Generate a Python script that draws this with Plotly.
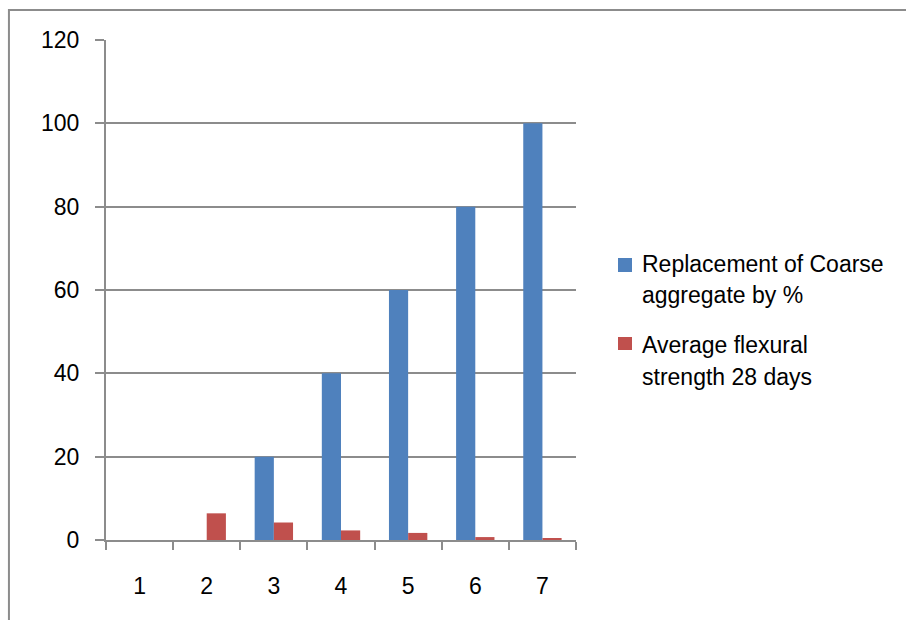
import plotly.graph_objects as go

categories = ["1", "2", "3", "4", "5", "6", "7"]
replacement_pct = [0, 0, 20, 40, 60, 80, 100]
flexural_28d = [0, 6.4, 4.2, 2.3, 1.7, 0.7, 0.25]
y_ticks = [0, 20, 40, 60, 80, 100, 120]
series_names = ["Replacement of Coarse<br>aggregate by %",
                "Average flexural<br>strength 28 days"]
series_colors = ["#4F81BD", "#C0504D"]

FONT = "Liberation Sans"
GRID = "#8c8c8c"

fig = go.Figure()
for vals, name, color in zip([replacement_pct, flexural_28d], series_names, series_colors):
    fig.add_trace(go.Bar(
        x=categories, y=vals, name=name.replace("<br>", " "),
        marker=dict(color=color, line=dict(width=0)),
        showlegend=False,
    ))

# outer chart frame
fig.add_shape(type="rect", xref="paper", yref="paper",
              x0=-0.2065, x1=1.85, y0=-0.2, y1=1.06,
              line=dict(color="#8c8c8c", width=2), fillcolor="rgba(0,0,0,0)",
              layer="below")

# legend: colour key squares and wrapped labels
key_boxes = [(0.564, 0.536), (0.406, 0.380)]
label_rows = [(0.552, 0.490), (0.390, 0.326)]
for (top, bot), rows, name, color in zip(key_boxes, label_rows, series_names, series_colors):
    fig.add_shape(type="rect", xref="paper", yref="paper",
                  x0=1.0894, x1=1.1191, y0=bot, y1=top,
                  line=dict(width=0), fillcolor=color)
    for yy, line_text in zip(rows, name.split("<br>")):
        fig.add_annotation(xref="paper", yref="paper", x=1.1362, y=yy,
                           xanchor="left", yanchor="middle", showarrow=False,
                           text=line_text, font=dict(family=FONT, size=23, color="#000"))

fig.update_layout(
    width=906, height=620,
    margin=dict(l=106, r=330, t=40, b=80),
    paper_bgcolor="white", plot_bgcolor="white",
    barmode="group", bargap=0.4286, bargroupgap=0,
    font=dict(family=FONT, size=23, color="#000000"),
    showlegend=False,
    xaxis=dict(type="category", showline=True, linecolor=GRID, linewidth=2,
               ticks="outside", tickson="boundaries", ticklen=8,
               tickcolor=GRID, tickwidth=2, showgrid=False,
               ticklabelstandoff=24, zeroline=False),
    yaxis=dict(range=[0, 120], tickvals=y_ticks, showline=True,
               linecolor=GRID, linewidth=2, ticks="outside", ticklen=9,
               tickcolor=GRID, tickwidth=2, showgrid=True, gridcolor=GRID,
               gridwidth=2, zeroline=False, ticklabelstandoff=11),
)

fig.write_html("out.html")
